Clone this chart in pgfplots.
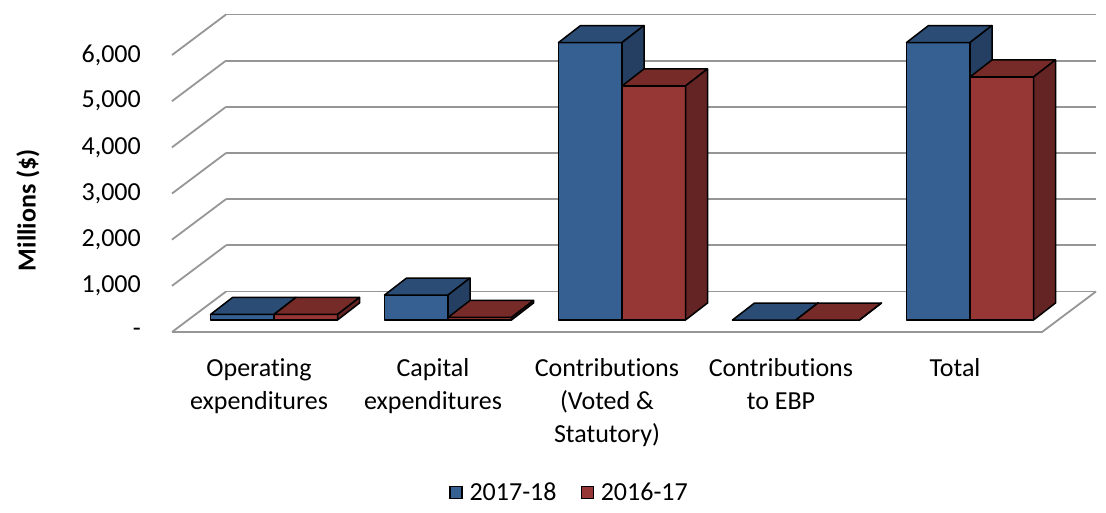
\documentclass[border=0pt]{standalone}
\usepackage{fontspec}
\setmainfont{Carlito}[Ligatures={NoCommon}]
\usepackage{pgfplots}
\usepackage{pgfplotstable}
\pgfplotsset{compat=1.18}

\definecolor{bluefront}{RGB}{55,96,146}
\definecolor{bluetop}{RGB}{43,76,116}
\definecolor{blueside}{RGB}{36,63,97}
\definecolor{redfront}{RGB}{150,55,53}
\definecolor{redtop}{RGB}{118,43,41}
\definecolor{redside}{RGB}{99,36,35}
\definecolor{gridgray}{RGB}{150,150,150}

% spending in millions of dollars
\pgfplotstableread{
pos y1718 y1617
0.5 120 120
1.5 540 55
2.5 6010 5070
3.5 0 0
4.5 6010 5265
}\spend

\newcommand{\lblfont}{\fontsize{26}{33.3}\selectfont}

\tikzset{gridline/.style={draw=gridgray, line width=1.8pt}}

% one 3D box per data point: #1,#2 left/right edge of front face (pt, from category centre), #3-#5 colours
% 277pt of axis height = 6000
\pgfplotsset{
  box3d/.style n args={5}{
    scatter, only marks, mark=*, mark size=0pt, forget plot,
    mark options={draw=none, fill=none},
    scatter/@pre marker code/.code={%
      \pgfmathsetmacro\xa{#1}%
      \pgfmathsetmacro\xb{#2}%
      \pgfmathsetmacro\xc{#2+22}%
      \pgfmathsetmacro\xd{#1+22}%
      \pgfmathsetmacro\hh{\val/6000*277}%
      \pgfmathsetmacro\yb{12-\hh}%
      \pgfmathsetmacro\ybb{29-\hh}%
      \filldraw[fill=#3, draw=black, line width=1.5pt, line join=round]
        (\xa pt,\yb pt) rectangle (\xb pt,12pt);
      \filldraw[fill=#4, draw=black, line width=1.5pt, line join=round]
        (\xa pt,12pt) -- (\xb pt,12pt) -- (\xc pt,29pt) -- (\xd pt,29pt) -- cycle;
      \filldraw[fill=#5, draw=black, line width=1.5pt, line join=round]
        (\xb pt,\yb pt) -- (\xc pt,\ybb pt) -- (\xc pt,29pt) -- (\xb pt,12pt) -- cycle;
    },
    scatter/@post marker code/.code={},
  },
}

\begin{document}
\begin{tikzpicture}
\path[use as bounding box] (0,0) rectangle (1106pt,-513pt);
\begin{axis}[
    at={(172pt,-332pt)}, anchor=south west,
    scale only axis,
    width=870pt, height=277pt,
    xmin=0, xmax=5,
    ymin=0, ymax=6000,
    clip=false,
    axis line style={draw=none},
    major tick length=0pt,
    xtick={0.5,1.5,2.5,3.5,4.5},
    xticklabels={{Operating\\expenditures},{Capital\\expenditures},{Contributions\\(Voted \&\\Statutory)},{Contributions\\to EBP},{Total}},
    ytick={0,1000,2000,3000,4000,5000,6000},
    yticklabels={-,{1,000},{2,000},{3,000},{4,000},{5,000},{6,000}},
    tick label style={font=\lblfont},
    xticklabel style={anchor=north, inner sep=0pt, yshift=-26pt, align=center},
    yticklabel style={anchor=east, inner sep=0pt, xshift=-31pt},
    ymajorgrids,
    major grid style={gridline, xshift=54pt, yshift=40.5pt},
    ylabel={\textbf{Millions (\$)}},
    every axis y label/.style={at={(axis description cs:-0.1655,0.44)}, rotate=90, anchor=center, font=\lblfont},
    legend style={at={(axis description cs:0.457,-0.578)}, anchor=center, draw=none,
      legend columns=2, font=\lblfont,
      /tikz/every odd column/.append style={column sep=5pt},
      /tikz/every even column/.append style={column sep=22pt}},
    legend image code/.code={\draw[#1, draw=black, line width=1.2pt] (0pt,-6pt) rectangle (12pt,6pt);},
]
% side wall and floor lines
\pgfplotsinvokeforeach{0,1000,2000,3000,4000,5000,6000}{
  \draw[gridline] (axis cs:0,#1) -- ++(54pt,40.5pt);
}
\draw[gridline] (axis cs:0,0) -- (axis cs:5,0) -- ++(54pt,40.5pt);

\addplot[box3d={-48.5}{15}{bluefront}{bluetop}{blueside},
  visualization depends on={\thisrow{y1718} \as \val}]
  table[x=pos, y=y1718] {\spend};
\addplot[box3d={15}{78.5}{redfront}{redtop}{redside},
  visualization depends on={\thisrow{y1617} \as \val}]
  table[x=pos, y=y1617] {\spend};

\addlegendimage{fill=bluefront}
\addlegendentry{2017-18}
\addlegendimage{fill=redfront}
\addlegendentry{2016-17}
\end{axis}
\end{tikzpicture}
\end{document}
